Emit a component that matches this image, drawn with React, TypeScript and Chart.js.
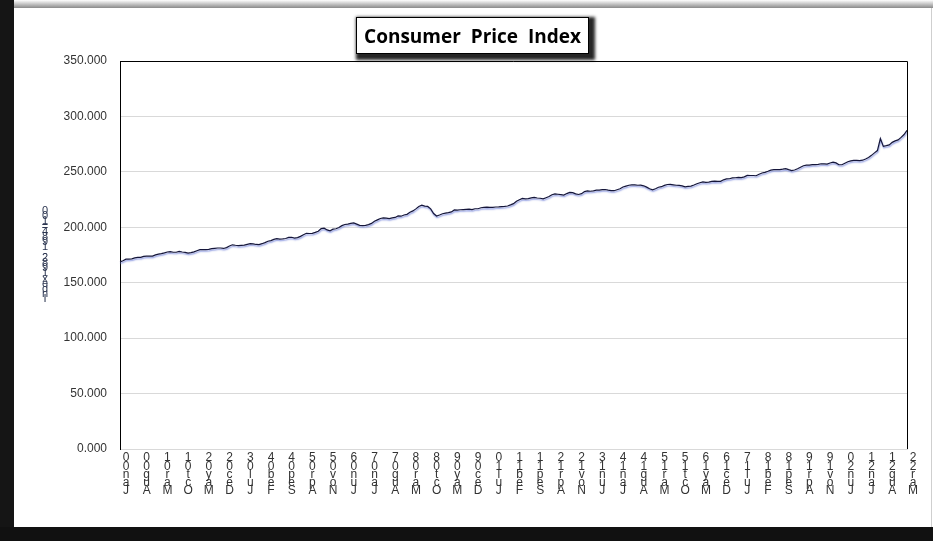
import React, { useEffect, useRef } from "react";
import { Chart, registerables } from "chart.js";

Chart.register(...registerables);

// CPI values, monthly (index 1982-1984=100)
const cpi2000 = [168.8, 169.8, 171.2, 171.3, 171.5, 172.4, 172.8, 172.8, 173.7, 174.0, 174.1, 174.0];
const cpi2001 = [175.1, 175.8, 176.2, 176.9, 177.7, 178.0, 177.5, 177.5, 178.3, 177.7, 177.4, 176.7];
const cpi2002 = [177.1, 177.8, 178.8, 179.8, 179.8, 179.9, 180.1, 180.7, 181.0, 181.3, 181.3, 180.9];
const cpi2003 = [181.7, 183.1, 184.2, 183.8, 183.5, 183.7, 183.9, 184.6, 185.2, 185.0, 184.5, 184.3];
const cpi2004 = [185.2, 186.2, 187.4, 188.0, 189.1, 189.7, 189.4, 189.5, 189.9, 190.9, 191.0, 190.3];
const cpi2005 = [190.7, 191.8, 193.3, 194.6, 194.4, 194.5, 195.4, 196.4, 198.8, 199.2, 197.6, 196.8];
const cpi2006 = [198.3, 198.7, 199.8, 201.5, 202.5, 202.9, 203.5, 203.9, 202.9, 201.8, 201.5, 201.8];
const cpi2007 = [202.4, 203.5, 205.4, 206.7, 207.9, 208.4, 208.3, 207.9, 208.5, 208.9, 210.2, 210.0];
const cpi2008 = [211.1, 211.7, 213.5, 214.8, 216.6, 218.8, 220.0, 219.1, 218.8, 216.6, 212.4, 210.2];
const cpi2009 = [211.1, 212.2, 212.7, 213.2, 213.9, 215.7, 215.4, 215.8, 216.0, 216.2, 216.3, 215.9];
const cpi2010 = [216.7, 216.7, 217.6, 218.0, 218.2, 218.0, 218.0, 218.3, 218.4, 218.7, 218.8, 219.2];
const cpi2011 = [220.2, 221.3, 223.5, 224.9, 226.0, 225.7, 225.9, 226.5, 226.9, 226.4, 226.2, 225.7];
const cpi2012 = [226.7, 227.7, 229.4, 230.1, 229.8, 229.5, 229.1, 230.4, 231.4, 231.3, 230.2, 229.6];
const cpi2013 = [230.3, 232.2, 232.8, 232.5, 232.9, 233.5, 233.6, 233.9, 234.1, 233.5, 233.1, 233.0];
const cpi2014 = [233.9, 234.8, 236.3, 237.1, 237.9, 238.3, 238.3, 237.9, 238.0, 237.4, 236.2, 234.8];
const cpi2015 = [233.7, 234.7, 236.1, 236.6, 237.8, 238.6, 238.7, 238.3, 237.9, 237.8, 237.3, 236.5];
const cpi2016 = [236.9, 237.1, 238.1, 239.3, 240.2, 241.0, 240.6, 240.8, 241.4, 241.7, 241.4, 241.4];
const cpi2017 = [242.8, 243.6, 243.8, 244.5, 244.7, 245.0, 244.8, 245.5, 246.8, 246.7, 246.7, 246.5];
const cpi2018 = [247.9, 249.0, 249.6, 250.5, 251.6, 252.0, 252.0, 252.1, 252.4, 252.9, 252.0, 251.2];
const cpi2019 = [251.7, 252.8, 254.2, 255.5, 256.1, 256.1, 256.6, 256.6, 256.8, 257.3, 257.2, 257.0];
const cpi2020 = [258.0, 258.7, 258.1, 256.4, 256.4, 257.8, 259.1, 259.9, 260.3, 260.4, 260.2, 260.5];
const cpi2021 = [261.6, 263.0, 264.9, 267.1, 269.2, 280.0, 273.0, 273.6, 274.3, 276.6, 277.9, 278.8];
const cpi2022 = [281.1, 283.7, 287.5];

const cpiValues: number[] = [
  ...cpi2000, ...cpi2001, ...cpi2002, ...cpi2003, ...cpi2004, ...cpi2005,
  ...cpi2006, ...cpi2007, ...cpi2008, ...cpi2009, ...cpi2010, ...cpi2011,
  ...cpi2012, ...cpi2013, ...cpi2014, ...cpi2015, ...cpi2016, ...cpi2017,
  ...cpi2018, ...cpi2019, ...cpi2020, ...cpi2021, ...cpi2022,
];

const monthNames = ["Jan", "Feb", "Mar", "Apr", "May", "Jun", "Jul", "Aug", "Sep", "Oct", "Nov", "Dec"];
const firstYear = 2000;
const categories: string[] = cpiValues.map((_, i) => {
  const y = firstYear + Math.floor(i / 12);
  return monthNames[i % 12] + String(y % 100).padStart(2, "0");
});
const labelEvery = 7;

const chartTitle = "Consumer  Price  Index";
const yAxisTitle = "Index1982-1984=100";

const yTicks = { min: 0, max: 350, step: 50 };

export default function App() {
  const canvasRef = useRef<HTMLCanvasElement | null>(null);

  useEffect(() => {
    document.body.style.margin = "0";
    const canvas = canvasRef.current;
    if (!canvas) return;

    const framePlugin = {
      id: "frameLines",
      afterDraw(chart: any) {
        const { ctx, chartArea } = chart;
        ctx.save();
        ctx.strokeStyle = "#000";
        ctx.lineWidth = 1;
        ctx.beginPath();
        ctx.moveTo(chartArea.left, chartArea.top + 0.5);
        ctx.lineTo(chartArea.right + 0.5, chartArea.top + 0.5);
        ctx.lineTo(chartArea.right + 0.5, chartArea.bottom);
        ctx.stroke();
        ctx.restore();
      },
    };

    const shadowPlugin = {
      id: "lineShadow",
      beforeDatasetDraw(chart: any) {
        const ctx = chart.ctx;
        ctx.save();
        ctx.shadowColor = "rgba(125,140,220,0.95)";
        ctx.shadowOffsetX = 0.5;
        ctx.shadowOffsetY = 1.5;
        ctx.shadowBlur = 1.5;
      },
      afterDatasetDraw(chart: any) {
        chart.ctx.restore();
      },
    };

    const yTitlePlugin = {
      id: "yTitleStacked",
      afterDraw(chart: any) {
        const ctx = chart.ctx;
        const chars = yAxisTitle.split("").reverse();
        ctx.save();
        ctx.font = "11px 'Liberation Sans', Arial, sans-serif";
        ctx.fillStyle = "#2b3550";
        ctx.textAlign = "center";
        ctx.textBaseline = "middle";
        chars.forEach((c, i) => {
          ctx.fillText(c, 45, 211 + i * 5.2);
        });
        ctx.restore();
      },
    };

    const chart = new Chart(canvas, {
      type: "line",
      data: {
        labels: categories,
        datasets: [
          {
            label: "CPI",
            data: cpiValues,
            borderColor: "#15163a",
            borderWidth: 1.2,
            pointRadius: 0,
            tension: 0,
            fill: false,
          },
        ],
      },
      options: {
        animation: false,
        responsive: false,
        maintainAspectRatio: false,
        layout: { padding: { left: 60, top: 61, right: 26, bottom: 0 } },
        plugins: {
          legend: { display: false },
          title: { display: false },
          tooltip: { enabled: false },
        },
        scales: {
          x: {
            type: "category",
            offset: false,
            grid: { display: false, drawTicks: false },
            border: { display: true, color: "#d9d9d9", width: 1 },
            afterFit(scale: any) {
              scale.height = 92;
            },
            ticks: {
              autoSkip: false,
              maxRotation: 0,
              minRotation: 0,
              labelOffset: 6,
              padding: 5,
              color: "#333",
              font: { family: "'Liberation Sans', Arial, sans-serif", size: 12, lineHeight: 0.68 },
              callback(_v: any, idx: number) {
                return idx % labelEvery === 0 ? categories[idx].split("").reverse() : "";
              },
            },
          },
          y: {
            min: yTicks.min,
            max: yTicks.max,
            grid: { color: "#d9d9d9", drawTicks: false },
            border: { display: true, color: "#000", width: 1 },
            afterFit(scale: any) {
              scale.width = 60;
            },
            ticks: {
              stepSize: yTicks.step,
              padding: 13,
              color: "#333",
              font: { family: "'Liberation Sans', Arial, sans-serif", size: 12 },
              callback(v: any) {
                return Number(v).toFixed(3);
              },
            },
          },
        },
      },
      plugins: [framePlugin, shadowPlugin, yTitlePlugin],
    });

    return () => chart.destroy();
  }, []);

  return (
    <div style={{ position: "relative", width: 933, height: 541, background: "#fff", overflow: "hidden" }}>
      <div style={{ position: "absolute", left: 0, top: 0, width: 14, height: 541, background: "#151515" }} />
      <div style={{ position: "absolute", left: 14, top: 0, width: 919, height: 8, background: "linear-gradient(to bottom, #fff, #8a8a8a)" }} />
      <div style={{ position: "absolute", left: 0, top: 527, width: 933, height: 14, background: "#111" }} />
      <div style={{ position: "absolute", left: 931, top: 8, width: 1, height: 519, background: "#cfcfcf" }} />
      <canvas ref={canvasRef} width={933} height={541} style={{ position: "absolute", left: 0, top: 0, width: 933, height: 541 }} />
      <div
        style={{
          position: "absolute",
          left: 356,
          top: 17,
          width: 231,
          height: 35,
          border: "1px solid #000",
          background: "#fff",
          boxShadow: "3px 3px 3px 3px rgba(0,0,0,0.85)",
          display: "flex",
          alignItems: "center",
          justifyContent: "center",
          fontFamily: "'Open Sans', 'Noto Sans', sans-serif",
          fontWeight: 700,
          fontSize: 19,
          color: "#000",
          whiteSpace: "pre",
        }}
      >
        {chartTitle}
      </div>
    </div>
  );
}
